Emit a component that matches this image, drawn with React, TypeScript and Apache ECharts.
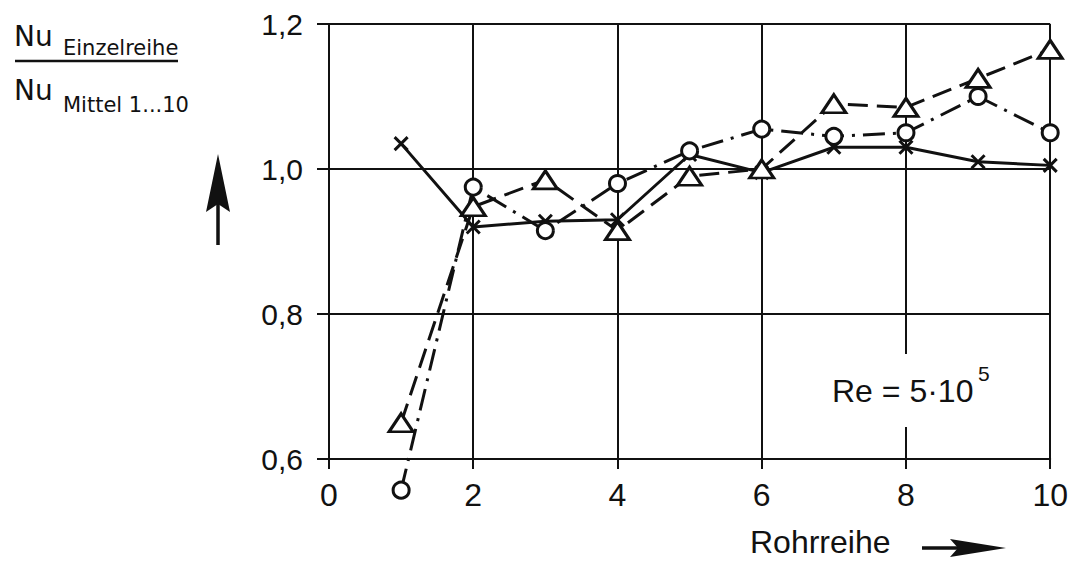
import React, { useEffect, useRef } from "react";
import * as echarts from "echarts";

const rows = [1, 2, 3, 4, 5, 6, 7, 8, 9, 10];
const crossValues = [1.035, 0.92, 0.928, 0.93, 1.02, 0.995, 1.03, 1.03, 1.01, 1.005];
const circleValues = [0.557, 0.975, 0.915, 0.98, 1.025, 1.055, 1.045, 1.05, 1.1, 1.05];
const triangleValues = [0.65, 0.948, 0.985, 0.915, 0.99, 1.0, 1.09, 1.085, 1.125, 1.165];
const xTicks = [0, 2, 4, 6, 8, 10];
const yTicks = [0.6, 0.8, 1.0, 1.2];

const LABEL_FONT = "'Liberation Sans', Arial, sans-serif";
const TITLE_FONT = "'DejaVu Sans', sans-serif";

function pairs(vals: number[]) {
  return rows.map((r, i) => [r, vals[i]]);
}

export default function App() {
  const ref = useRef<HTMLDivElement>(null);
  useEffect(() => {
    if (!ref.current) return;
    const chart = echarts.init(ref.current, undefined, { renderer: "svg" });
    const black = "#111";
    chart.setOption({
      animation: false,
      backgroundColor: "#fff",
      grid: { left: 329, right: 19, top: 24, bottom: 108, containLabel: false },
      xAxis: {
        type: "value",
        min: xTicks[0],
        max: xTicks[xTicks.length - 1],
        interval: 2,
        axisLine: { show: true, onZero: false, lineStyle: { color: black, width: 2 } },
        axisTick: { show: true, length: 10, lineStyle: { color: black, width: 2 } },
        splitLine: { show: true, lineStyle: { color: black, width: 2 } },
        axisLabel: {
          margin: 20,
          color: black,
          fontSize: 32,
          fontFamily: LABEL_FONT,
        },
      },
      yAxis: {
        type: "value",
        min: yTicks[0],
        max: yTicks[yTicks.length - 1],
        interval: 0.2,
        axisLine: { show: true, onZero: false, lineStyle: { color: black, width: 2 } },
        axisTick: { show: true, length: 12, lineStyle: { color: black, width: 2 } },
        splitLine: { show: true, lineStyle: { color: black, width: 2 } },
        axisLabel: {
          margin: 26,
          color: black,
          fontSize: 30,
          fontFamily: LABEL_FONT,
          formatter: (v: number) => v.toFixed(1).replace(".", ","),
        },
      },
      series: [
        {
          type: "line",
          name: "x",
          data: pairs(crossValues),
          clip: false,
          symbol: "path://M0,0L10,10M10,0L0,10",
          symbolSize: 13,
          lineStyle: { color: black, width: 3, type: "solid" },
          itemStyle: { color: "none", borderColor: black, borderWidth: 3 },
          z: 3,
        },
        {
          type: "line",
          name: "o",
          data: pairs(circleValues),
          clip: false,
          symbol: "circle",
          symbolSize: 16,
          lineStyle: { color: black, width: 3, type: [22, 8, 3, 8] },
          itemStyle: { color: "#fff", borderColor: black, borderWidth: 3 },
          z: 4,
        },
        {
          type: "line",
          name: "triangle",
          data: pairs(triangleValues),
          clip: false,
          symbol: "triangle",
          symbolSize: [24, 18],
          lineStyle: { color: black, width: 3, type: [20, 9] },
          itemStyle: { color: "#fff", borderColor: black, borderWidth: 3 },
          z: 5,
        },
      ],
      graphic: [
        { type: "rect", z: 1, shape: { x: 818, y: 354, width: 178, height: 73 }, style: { fill: "#fff" } },
        {
          type: "text", z: 10, x: 832, y: 391,
          style: { text: "Re = 5·10", font: `32px ${LABEL_FONT}`, fill: black, verticalAlign: "middle" },
        },
        {
          type: "text", z: 10, x: 978, y: 373,
          style: { text: "5", font: `21px ${LABEL_FONT}`, fill: black, verticalAlign: "middle" },
        },
        {
          type: "text", z: 10, x: 750, y: 542,
          style: { text: "Rohrreihe", font: `32px ${LABEL_FONT}`, fill: black, verticalAlign: "middle" },
        },
        { type: "line", z: 10, shape: { x1: 922, y1: 548, x2: 958, y2: 548 }, style: { stroke: black, lineWidth: 3.5 } },
        {
          type: "polygon", z: 10,
          shape: { points: [[1006, 548], [950, 539], [958, 548], [950, 557]] },
          style: { fill: black },
        },
        {
          type: "text", z: 10, x: 14, y: 36,
          style: { text: "Nu", font: `28px ${TITLE_FONT}`, fill: black, verticalAlign: "middle" },
        },
        {
          type: "text", z: 10, x: 63, y: 48,
          style: { text: "Einzelreihe", font: `21px ${TITLE_FONT}`, fill: black, verticalAlign: "middle" },
        },
        { type: "line", z: 10, shape: { x1: 15, y1: 61, x2: 178, y2: 61 }, style: { stroke: black, lineWidth: 2.5 } },
        {
          type: "text", z: 10, x: 14, y: 90,
          style: { text: "Nu", font: `28px ${TITLE_FONT}`, fill: black, verticalAlign: "middle" },
        },
        {
          type: "text", z: 10, x: 63, y: 105,
          style: { text: "Mittel 1...10", font: `21px ${TITLE_FONT}`, fill: black, verticalAlign: "middle" },
        },
        {
          type: "polygon", z: 10,
          shape: { points: [[218, 154], [206, 212], [218, 204], [230, 212]] },
          style: { fill: black },
        },
        { type: "line", z: 10, shape: { x1: 218, y1: 200, x2: 218, y2: 245 }, style: { stroke: black, lineWidth: 3.5 } },
      ],
    });
    return () => chart.dispose();
  }, []);
  return (
    <div
      ref={ref}
      style={{ position: "fixed", left: 0, top: 0, width: 1071, height: 567, background: "#fff" }}
    />
  );
}
